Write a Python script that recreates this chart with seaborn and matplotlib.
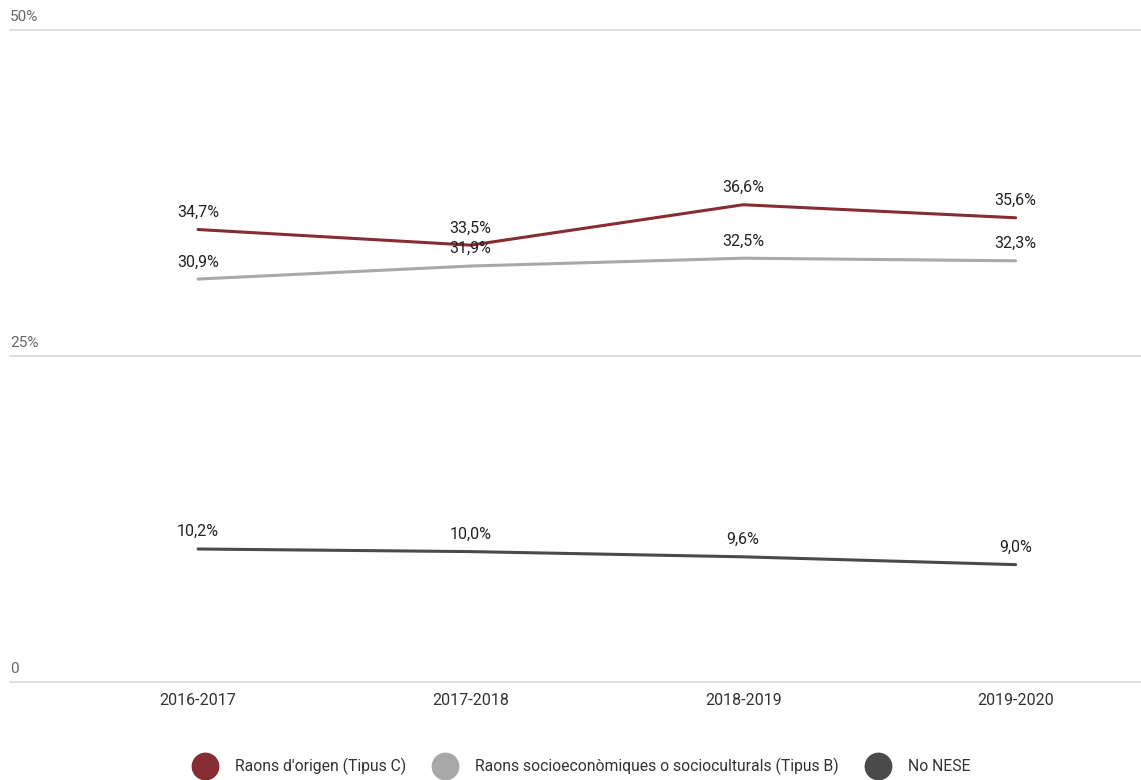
import matplotlib
matplotlib.use("Agg")
import matplotlib.pyplot as plt
from matplotlib.lines import Line2D
import seaborn as sns
import pandas as pd

# data
cursos = ["2016-2017", "2017-2018", "2018-2019", "2019-2020"]
origen = [34.7, 33.5, 36.6, 35.6]
socio = [30.9, 31.9, 32.5, 32.3]
no_nese = [10.2, 10.0, 9.6, 9.0]
series_names = ["Raons d'origen (Tipus C)",
                "Raons socioeconòmiques o socioculturals (Tipus B)",
                "No NESE"]
colors = ["#862c33", "#a8a8a8", "#4a4a4a"]
y_ticks = [0, 25, 50]
y_tick_labels = ["0", "25%", "50%"]

df = pd.DataFrame({
    "curs": cursos * 3,
    "x": list(range(len(cursos))) * 3,
    "valor": origen + socio + no_nese,
    "serie": [series_names[0]] * 4 + [series_names[1]] * 4 + [series_names[2]] * 4,
})

sns.set_theme(style="white")
plt.rcParams["font.family"] = ["Roboto", "DejaVu Sans"]

fig = plt.figure(figsize=(11.41, 7.8), dpi=100)
ax = fig.add_axes([10 / 1141, 98 / 780, 1131 / 1141, 652 / 780])

sns.lineplot(data=df, x="x", y="valor", hue="serie", palette=colors,
             hue_order=series_names, linewidth=2.2, legend=False, ax=ax)

# data labels
for vals in [origen, socio, no_nese]:
    for i, v in enumerate(vals):
        ax.annotate(f"{v:.1f}%".replace(".", ","), (i, v), xytext=(0, 7),
                    textcoords="offset points", ha="center", va="bottom",
                    fontsize=11.5, color="#222222")

ax.set_xlim(-0.69, 3.46)
ax.set_ylim(0, 50)
ax.set_xticks(range(len(cursos)))
ax.set_xticklabels(cursos, fontsize=11.5, color="#333333")
ax.tick_params(axis="x", length=0, pad=8)
ax.set_yticks([])
ax.set_xlabel("")
ax.set_ylabel("")
for s in ax.spines.values():
    s.set_visible(False)

# gridlines + y labels
for t, lab in zip(y_ticks, y_tick_labels):
    ax.axhline(t, color="#d9d9d9", linewidth=1.2, zorder=0, clip_on=False)
    ax.annotate(lab, (0, t), xycoords=("axes fraction", "data"),
                xytext=(0, 4), textcoords="offset points",
                ha="left", va="bottom", fontsize=11, color="#666666")

handles = [Line2D([], [], linestyle="none", marker="o", markersize=19,
                  markerfacecolor=c, markeredgecolor=c) for c in colors]
fig.legend(handles, series_names, loc="lower center", ncol=3,
           bbox_to_anchor=(0.508, -0.012), frameon=False, fontsize=11.3,
           handletextpad=0.9, columnspacing=1.5, labelcolor="#333333")

fig.savefig("out.png", dpi=100)
